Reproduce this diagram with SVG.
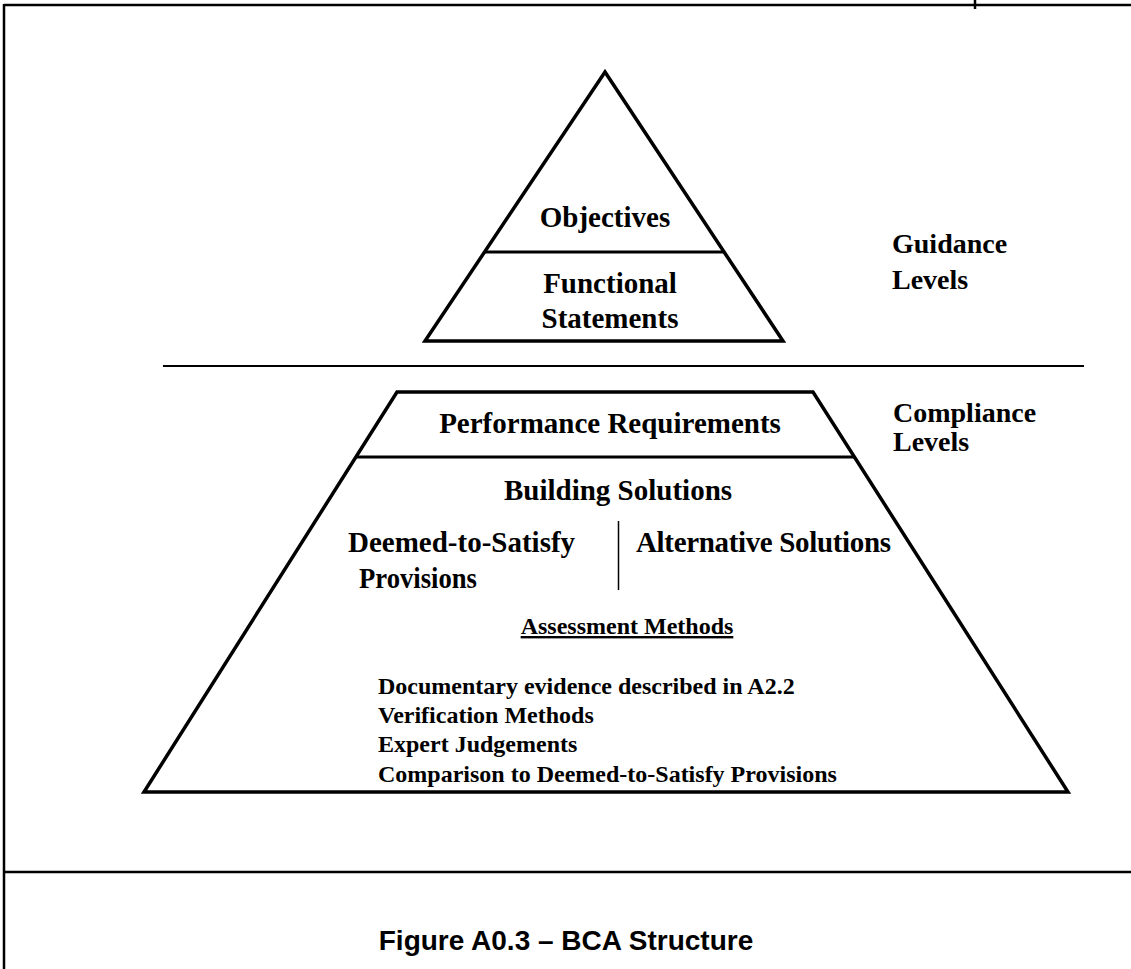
<svg xmlns="http://www.w3.org/2000/svg" width="1131" height="969" viewBox="0 0 1131 969">
<style>
.frame{stroke:#000;stroke-width:2.5;fill:none}
.shape{stroke:#000;stroke-width:3.5;fill:none;stroke-linejoin:miter}
.div{stroke:#000;stroke-width:3;fill:none}
.sep{stroke:#000;stroke-width:2;fill:none}
.t{font-family:"Liberation Serif","Times New Roman",serif;font-weight:bold;fill:#000}
.big{font-size:29px}
.lab{font-size:28px}
.small{font-size:24px}
.title{font-family:"Liberation Sans",Arial,sans-serif;font-weight:bold;font-size:28px;fill:#000}
</style>
<rect width="1131" height="969" fill="#fff"/>
<g id="frame">
<line class="frame" x1="4" y1="5" x2="1131" y2="5"/>
<line class="frame" x1="4" y1="4" x2="4" y2="969"/>
<line class="frame" x1="975" y1="0" x2="975" y2="9"/>
<line class="frame" x1="4" y1="872" x2="1131" y2="872"/>
</g>
<g id="guidance-triangle">
<polygon class="shape" points="605,72 425,341 783,341"/>
<line class="div" x1="485" y1="252" x2="724" y2="252"/>
<text class="t big" x="605" y="227" text-anchor="middle">Objectives</text>
<text class="t big" x="610" y="293" text-anchor="middle">Functional</text>
<text class="t big" x="610" y="328" text-anchor="middle">Statements</text>
</g>
<g id="separator">
<line class="sep" x1="163" y1="366" x2="1084" y2="366"/>
</g>
<g id="guidance-label">
<text class="t lab" x="892" y="253">Guidance</text>
<text class="t lab" x="892" y="289">Levels</text>
</g>
<g id="compliance-label">
<text class="t lab" x="893" y="422">Compliance</text>
<text class="t lab" x="893" y="451">Levels</text>
</g>
<g id="compliance-trapezoid">
<polygon class="shape" points="397,392 813,392 1068,792 144,792"/>
<line class="div" x1="356" y1="457" x2="854" y2="457"/>
<text class="t big" x="610" y="433" text-anchor="middle">Performance Requirements</text>
<text class="t big" x="618" y="500" text-anchor="middle">Building Solutions</text>
<text class="t big" x="348" y="552">Deemed-to-Satisfy</text>
<text class="t big" x="418" y="588" text-anchor="middle" textLength="118" lengthAdjust="spacingAndGlyphs">Provisions</text>
<line x1="618.5" y1="521" x2="618.5" y2="590" stroke="#000" stroke-width="1.5"/>
<text class="t big" x="636" y="552" textLength="255" lengthAdjust="spacing">Alternative Solutions</text>
<text class="t small" x="627" y="634" text-anchor="middle" text-decoration="underline">Assessment Methods</text>
<text class="t small" x="378" y="694">Documentary evidence described in A2.2</text>
<text class="t small" x="378" y="723">Verification Methods</text>
<text class="t small" x="378" y="752">Expert Judgements</text>
<text class="t small" x="378" y="782">Comparison to Deemed-to-Satisfy  Provisions</text>
</g>
<g id="caption">
<text class="title" x="566" y="950" text-anchor="middle">Figure A0.3 – BCA Structure</text>
</g>
</svg>
